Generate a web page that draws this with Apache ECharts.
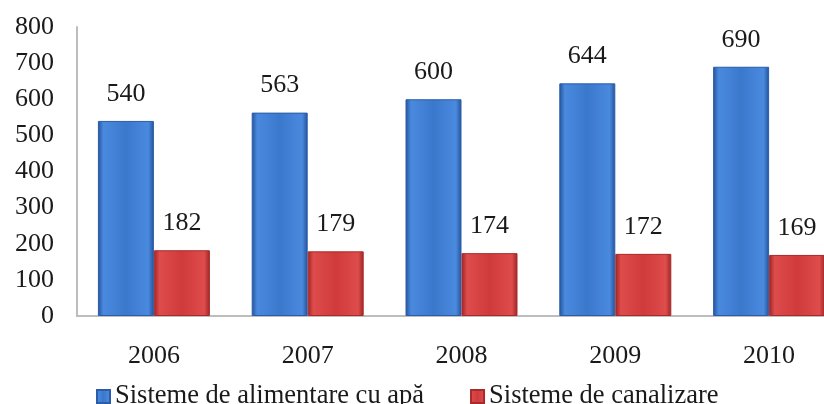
<!DOCTYPE html>
<html>
<head>
<meta charset="utf-8">
<script src="https://cdn.jsdelivr.net/npm/echarts@6/dist/echarts.min.js"></script>
<style>
  html, body { margin: 0; padding: 0; background: #fff; }
  #main { width: 824px; height: 404px; }
</style>
</head>
<body>
<div id="main"></div>
<script>
const years = ['2006', '2007', '2008', '2009', '2010'];
const apa = [540, 563, 600, 644, 690];
const canalizare = [182, 179, 174, 172, 169];
const seriesNames = ['Sisteme de alimentare cu apă', 'Sisteme de canalizare'];

const font = 'Liberation Serif, Times New Roman, serif';

function barGrad(edge, mid, light) {
  return new echarts.graphic.LinearGradient(0, 0, 1, 0, [
    { offset: 0, color: edge },
    { offset: 0.1, color: light },
    { offset: 0.5, color: mid },
    { offset: 0.9, color: light },
    { offset: 1, color: edge },
  ]);
}

const myChart = echarts.init(document.getElementById('main'));

const labelStyle = {
  show: true,
  position: 'top',
  distance: 14,
  fontFamily: font,
  fontSize: 26,
  color: '#1a1a1a',
};

const option = {
  backgroundColor: '#fff',
  animation: false,
  textStyle: { fontFamily: font },
  // the plot runs past the right edge of the picture
  grid: { left: 77, top: 27, height: 289, width: 769, outerBoundsMode: 'none', containLabel: false },
  legend: {
    left: 91,
    top: 378,
    itemWidth: 13,
    itemHeight: 13,
    itemGap: 46,
    icon: 'rect',
    textStyle: { fontFamily: font, fontSize: 26.5, color: '#1a1a1a' },
    data: seriesNames,
  },
  xAxis: {
    type: 'category',
    data: years,
    axisLine: { show: true, lineStyle: { color: '#bdbdbd', width: 2 } },
    axisTick: { show: false },
    axisLabel: { fontFamily: font, fontSize: 26, color: '#1a1a1a', margin: 27 },
  },
  yAxis: {
    type: 'value',
    min: 0,
    max: 800,
    interval: 100,
    axisLine: { show: true, lineStyle: { color: '#bdbdbd', width: 2 } },
    axisTick: { show: false },
    splitLine: { show: false },
    axisLabel: { fontFamily: font, fontSize: 26, color: '#1a1a1a', margin: 23 },
  },
  series: [
    {
      name: seriesNames[0],
      type: 'bar',
      data: apa,
      barWidth: 56,
      barGap: '0%',
      itemStyle: {
        color: barGrad('#24529a', '#3a78cc', '#4a8ade'),
        borderColor: '#2a5ca8',
        borderWidth: 1,
      },
      label: labelStyle,
    },
    {
      name: seriesNames[1],
      type: 'bar',
      data: canalizare,
      barWidth: 56,
      barGap: '0%',
      itemStyle: {
        color: barGrad('#9e2424', '#d03a3a', '#de4c4c'),
        borderColor: '#a82a2a',
        borderWidth: 1,
      },
      label: labelStyle,
    },
  ],
};

myChart.setOption(option);
</script>
</body>
</html>
